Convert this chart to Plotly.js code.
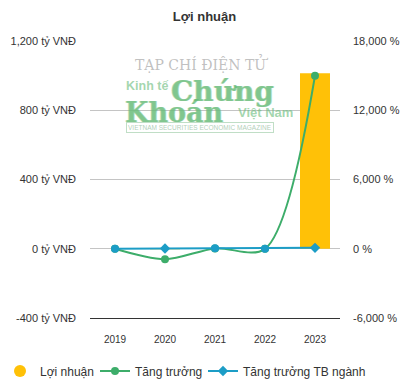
<!DOCTYPE html>
<html>
<head>
<meta charset="utf-8">
<script src="https://cdn.plot.ly/plotly-3.0.1.min.js"></script>
<style>html,body{margin:0;padding:0;background:#fff;}#chart{width:409px;height:381px;}</style>
</head>
<body>
<div id="chart"></div>
<script>
var categories = ['2019', '2020', '2021', '2022', '2023'];
var profit = [0, -3, 2, 1, 1013];            // tỷ VNĐ
var growth = [0, -900, 30, -10, 15000];       // %
var industryGrowth = [0, 20, 40, 0, 80];      // %
var industrySymbols = ['circle', 'diamond', 'circle', 'circle', 'diamond'];
var leftTickVals = [-400, 0, 400, 800, 1200];
var leftTickText = ['-400 tỷ VNĐ', '0 tỷ VNĐ', '400 tỷ VNĐ', '800 tỷ VNĐ', '1,200 tỷ VNĐ'];
var rightTickVals = [-6000, 0, 6000, 12000, 18000];
var rightTickText = ['-6,000 %', '0 %', '6,000 %', '12,000 %', '18,000 %'];

var FONT = '"Liberation Sans", Arial, sans-serif';
var cBar = '#FFC107', cGreen = '#3DAD6A', cBlue = '#1C9DC6';

var traces = [
  {type: 'bar', x: categories, y: profit, marker: {color: cBar}, width: 0.6,
   showlegend: false, name: 'Lợi nhuận', yaxis: 'y', hoverinfo: 'none'},
  {type: 'scatter', mode: 'markers', x: [null], y: [null], name: 'Lợi nhuận', legend: 'legend',
   marker: {color: cBar, size: 12, symbol: 'circle'}, showlegend: true},
  {type: 'scatter', mode: 'lines+markers', x: categories, y: growth, name: 'Tăng trưởng', legend: 'legend2',
   yaxis: 'y2', line: {color: cGreen, width: 2, shape: 'spline', smoothing: 0.9},
   marker: {color: cGreen, size: 8, symbol: 'circle'}},
  {type: 'scatter', mode: 'lines+markers', x: categories, y: industryGrowth, name: 'Tăng trưởng TB ngành',
   yaxis: 'y2', line: {color: cBlue, width: 2}, showlegend: false,
   marker: {color: cBlue, size: 8, symbol: industrySymbols}},
  {type: 'scatter', mode: 'lines+markers', x: [null], y: [null], name: 'Tăng trưởng TB ngành', legend: 'legend3',
   yaxis: 'y2', line: {color: cBlue, width: 2}, marker: {color: cBlue, size: 8, symbol: 'diamond'}}
];

var wm = 'rgba(105,188,122,0.62)';
var wmShadow = '0.7px 0 0 ' + wm + ', -0.7px 0 0 ' + wm;
function px(x) { return (x - 90) / 250; }
function py(y) { return (318 - y) / 277; }
function leg(xPix) {
  return {orientation: 'h', xref: 'container', yref: 'container', x: xPix / 409, y: 1 - 371/381,
          xanchor: 'left', yanchor: 'middle', font: {family: FONT, size: 12, color: '#333'},
          itemclick: false, bgcolor: 'rgba(0,0,0,0)'};
}
var layout = {
  width: 409, height: 381,
  margin: {l: 90, r: 69, t: 41, b: 63, autoexpand: false},
  paper_bgcolor: '#fff', plot_bgcolor: '#fff',
  font: {family: FONT, color: '#333', size: 11},
  title: {text: '<b>Lợi nhuận</b>', font: {family: FONT, size: 13, color: '#333'},
          x: 0.5, xanchor: 'center', y: 1 - 16/381, yanchor: 'middle', yref: 'container'},
  showlegend: true,
  legend: leg(0),
  legend2: leg(95),
  legend3: leg(203),
  bargap: 0.4,
  xaxis: {type: 'category', showgrid: false, showline: true, linecolor: '#333', linewidth: 1,
          ticks: '', tickfont: {size: 10, color: '#333'}, ticklabelstandoff: 12, zeroline: false},
  yaxis: {range: [-400, 1200], tickvals: leftTickVals, ticktext: leftTickText,
          showgrid: true, gridcolor: '#c4c4c4', gridwidth: 1, zeroline: false,
          tickfont: {size: 11, color: '#333'}, ticklabelstandoff: 13},
  yaxis2: {range: [-6000, 18000], tickvals: rightTickVals, ticktext: rightTickText, overlaying: 'y',
           side: 'right', showgrid: false, zeroline: false,
           tickfont: {size: 11, color: '#333'}, ticklabelstandoff: 12},
  annotations: [
    {xref: 'paper', yref: 'paper', x: px(201), y: py(52), text: 'TẠP CHÍ ĐIỆN TỬ', showarrow: false,
     font: {family: '"DejaVu Serif", serif', size: 14, color: 'rgba(165,165,165,0.7)'}},
    {xref: 'paper', yref: 'paper', x: px(124), xanchor: 'left', y: py(77), text: '<b>Kinh tế</b>', showarrow: false,
     font: {family: '"Liberation Sans Narrow", Arial, sans-serif', size: 12.5, color: wm}},
    {xref: 'paper', yref: 'paper', x: px(169), xanchor: 'left', y: py(73), text: '<b>Chứng</b>', showarrow: false,
     font: {family: '"DejaVu Serif", serif', size: 28, color: wm, shadow: wmShadow}},
    {xref: 'paper', yref: 'paper', x: px(123), xanchor: 'left', y: py(95), text: '<b>Khoán</b>', showarrow: false,
     font: {family: '"DejaVu Serif", serif', size: 27, color: wm, shadow: wmShadow}},
    {xref: 'paper', yref: 'paper', x: px(236), xanchor: 'left', y: py(103), text: '<b>Việt Nam</b>', showarrow: false,
     font: {family: '"Liberation Sans Narrow", Arial, sans-serif', size: 13, color: wm}},
    {xref: 'paper', yref: 'paper', x: px(200), y: py(122), text: 'VIETNAM SECURITIES ECONOMIC MAGAZINE', showarrow: false,
     font: {family: FONT, size: 6.5, color: 'rgba(150,190,160,0.75)'}, bordercolor: 'rgba(150,200,160,0.6)', borderwidth: 1, borderpad: 1}
  ]
};

Plotly.newPlot('chart', traces, layout, {displayModeBar: false, staticPlot: true});
</script>
</body>
</html>
